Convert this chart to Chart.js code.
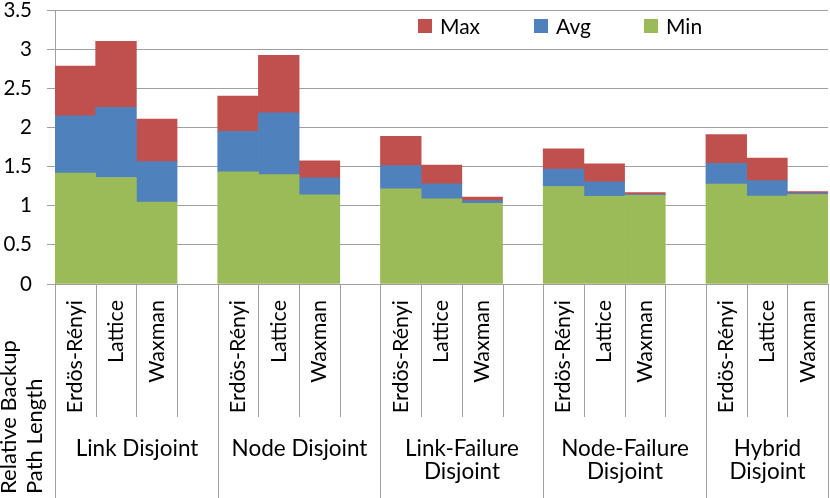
<!DOCTYPE html>
<html>
<head>
<meta charset="utf-8">
<script src="https://cdn.jsdelivr.net/npm/chart.js@4.4.1/dist/chart.umd.min.js"></script>
<style>
    html, body { margin: 0; padding: 0; background: #fff; }
    canvas { display: block; }
</style>
</head>
<body>
<canvas id="chart" width="830" height="498"></canvas>
<script>
// Inner categories, blank slots keep the groups apart
const topologies = [
    'Erdös-Rényi', 'Lattice', 'Waxman', '',
    'Erdös-Rényi', 'Lattice', 'Waxman', '',
    'Erdös-Rényi', 'Lattice', 'Waxman', '',
    'Erdös-Rényi', 'Lattice', 'Waxman', '',
    'Erdös-Rényi', 'Lattice', 'Waxman'
];

// Outer categories and how many slots each one spans
const groupLabels = [
    ['Link Disjoint'],
    ['Node Disjoint'],
    ['Link-Failure', 'Disjoint'],
    ['Node-Failure', 'Disjoint'],
    ['Hybrid', 'Disjoint']
];
const groupSizes = [4, 4, 4, 4, 3];

// Top of each segment
const minValues = [1.416, 1.36, 1.046, null, 1.432, 1.398, 1.139, null, 1.216, 1.088, 1.03, null, 1.245, 1.12, 1.13, null, 1.276, 1.124, 1.143];
const avgValues = [2.147, 2.258, 1.564, null, 1.95, 2.185, 1.356, null, 1.513, 1.279, 1.066, null, 1.467, 1.305, 1.143, null, 1.543, 1.321, 1.16];
const maxValues = [2.785, 3.10, 2.108, null, 2.40, 2.92, 1.573, null, 1.886, 1.52, 1.11, null, 1.728, 1.534, 1.168, null, 1.91, 1.607, 1.181];

const yMin = 0;
const yMax = 3.5;
const yStep = 0.5;

const seriesNames = ['Min', 'Avg', 'Max'];
const seriesColors = ['#9BBB59', '#4F81BD', '#C0504D'];

const gridColor = '#a0a0a0';
const fontFamily = 'Lato, "Open Sans", sans-serif';

// Avg and Max are floating bars that start where the segment below ends
const avgRanges = avgValues.map((v, i) => v === null ? null : [minValues[i], v]);
const maxRanges = maxValues.map((v, i) => v === null ? null : [avgValues[i], v]);

const axisTable = {
    id: 'axisTable',
    afterDraw(chart) {
        const { ctx, chartArea } = chart;
        const xScale = chart.scales.x;
        const slot = xScale.getPixelForValue(1) - xScale.getPixelForValue(0);
        const edge = (i) => Math.round(xScale.getPixelForValue(i) - slot / 2) + 0.5;

        // group boundaries run to the bottom, others stop under the labels
        const groupEdges = [0];
        groupSizes.forEach(n => groupEdges.push(groupEdges[groupEdges.length - 1] + n));

        ctx.save();
        ctx.strokeStyle = gridColor;
        ctx.lineWidth = 1;
        for (let i = 0; i <= topologies.length; i++) {
            const px = Math.min(edge(i), chart.width - 1.5);
            const bottom = groupEdges.includes(i) ? chart.height : chartArea.bottom + 133;
            ctx.beginPath();
            ctx.moveTo(px, chartArea.bottom);
            ctx.lineTo(px, bottom);
            ctx.stroke();
        }

        // outer category labels
        ctx.fillStyle = '#000';
        ctx.font = '22.5px ' + fontFamily;
        ctx.textAlign = 'center';
        ctx.textBaseline = 'alphabetic';
        groupLabels.forEach((lines, g) => {
            const cx = (edge(groupEdges[g]) + edge(groupEdges[g + 1])) / 2;
            lines.forEach((line, k) => {
                ctx.fillText(line, cx, 456 + k * 23.4);
            });
        });

        // axis title sits in the corner cell of the table
        ctx.font = '22px ' + fontFamily;
        ctx.textAlign = 'left';
        ['Relative Backup', 'Path Length'].forEach((line, k) => {
            ctx.save();
            ctx.translate(15.5 + k * 26.5, 494);
            ctx.rotate(-Math.PI / 2);
            ctx.fillText(line, 0, 0);
            ctx.restore();
        });

        // legend, reversed like the original
        ctx.font = '21px ' + fontFamily;
        const legendX = [418, 534, 644];
        [2, 1, 0].forEach((s, k) => {
            ctx.fillStyle = seriesColors[s];
            ctx.fillRect(legendX[k], 19, 14, 14);
            ctx.fillStyle = '#000';
            ctx.fillText(seriesNames[s], legendX[k] + 22, 33.5);
        });
        ctx.restore();
    }
};

new Chart(document.getElementById('chart'), {
    type: 'bar',
    data: {
        labels: topologies,
        datasets: [
            { label: seriesNames[0], data: minValues, backgroundColor: seriesColors[0] },
            { label: seriesNames[1], data: avgRanges, backgroundColor: seriesColors[1] },
            { label: seriesNames[2], data: maxRanges, backgroundColor: seriesColors[2] }
        ]
    },
    options: {
        responsive: false,
        animation: false,
        devicePixelRatio: 1,
        barPercentage: 1,
        categoryPercentage: 1,
        layout: { padding: { top: 10, right: 2, left: 0, bottom: 0 } },
        plugins: {
            legend: { display: false },
            tooltip: { enabled: false }
        },
        scales: {
            x: {
                stacked: true,
                ticks: {
                    autoSkip: false,
                    minRotation: 90,
                    maxRotation: 90,
                    padding: 16,
                    color: '#000',
                    font: { family: fontFamily, size: 21.5 }
                },
                grid: { display: false, drawTicks: false },
                border: { color: gridColor },
                afterFit(scale) {
                    scale.height = 214;
                    scale.paddingLeft = 0;
                    scale.paddingRight = 0;
                }
            },
            y: {
                min: yMin,
                max: yMax,
                ticks: {
                    stepSize: yStep,
                    padding: 15,
                    color: '#000',
                    font: { family: fontFamily, size: 20.5 },
                    callback: (value) => String(value)
                },
                grid: { color: gridColor, tickLength: 8 },
                border: { color: gridColor },
                afterFit(scale) {
                    scale.width = 55;
                    scale.paddingTop = 0;
                    scale.paddingBottom = 0;
                }
            }
        }
    },
    plugins: [axisTable]
});
</script>
</body>
</html>
